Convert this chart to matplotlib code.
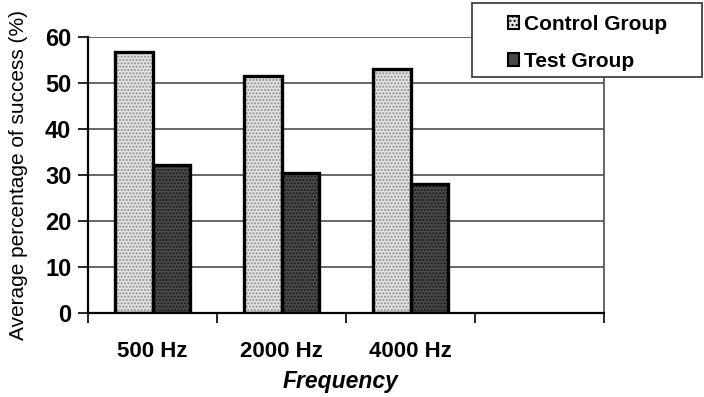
import matplotlib
matplotlib.use("Agg")
import matplotlib.pyplot as plt
import numpy as np
from matplotlib.patches import Patch, Rectangle

categories = ["500 Hz", "2000 Hz", "4000 Hz", ""]
control = [56.6, 51.5, 52.9]
test = [32.1, 30.4, 28.0]
series_names = ["Control Group", "Test Group"]
yticks = [0, 10, 20, 30, 40, 50, 60]

plt.rcParams['font.family'] = ['Liberation Sans', 'DejaVu Sans']

fig = plt.figure(figsize=(7.04, 3.97), dpi=100)
ax = fig.add_axes([0.125, 0.2116, 0.733, 0.696])

x = np.arange(len(control)) + 0.5
w = 0.29
ctrl_face, ctrl_dot = '#e4e4e4', '#8a8a8a'
test_face, test_dot = '#4a4a4a', '#1a1a1a'

# fills with dotted texture
ax.bar(x - w / 2, control, w, color=ctrl_face, edgecolor=ctrl_dot, hatch='.....', lw=0, zorder=2)
ax.bar(x + w / 2, test, w, color=test_face, edgecolor=test_dot, hatch='.....', lw=0, zorder=2)
# outlines
ax.bar(x - w / 2, control, w, fill=False, edgecolor='black', lw=2.4, zorder=3)
ax.bar(x + w / 2, test, w, fill=False, edgecolor='black', lw=2.4, zorder=3)

ax.set_xlim(0, 4)
ax.set_ylim(0, 60)
ax.set_yticks(yticks)
ax.set_yticklabels([str(t) for t in yticks], fontsize=17, fontweight='bold')
ax.yaxis.grid(True, color='#5a5a5a', lw=1.3, zorder=0)
ax.set_axisbelow(True)

ax.set_xticks(np.arange(len(categories)) + 0.5)
ax.set_xticklabels(categories, fontsize=16, fontweight='bold')
ax.tick_params(axis='x', which='major', length=0, pad=20)
ax.set_xticks(np.arange(0, 5), minor=True)
ax.tick_params(axis='x', which='minor', length=7, width=1.2, direction='out', color='black')
ax.tick_params(axis='y', length=7, width=1.2, direction='out', pad=5)

for s in ['left', 'bottom']:
    ax.spines[s].set_color('black')
    ax.spines[s].set_linewidth(1.6)
ax.spines['right'].set_color('#5a5a5a')
ax.spines['right'].set_linewidth(1.3)
ax.spines['top'].set_visible(False)

ax.set_ylabel("Average percentage of success (%)", fontsize=15, labelpad=12)
ax.set_xlabel("Frequency", fontsize=16.5, fontweight='bold', fontstyle='italic')
ax.xaxis.set_label_coords(0.49, -0.205)

# legend frame
box = Rectangle((0.670, 0.806), 0.327, 0.186, transform=fig.transFigure,
                facecolor='white', edgecolor='#404040', lw=1.3, zorder=9)
fig.add_artist(box)

handles = [Patch(facecolor=ctrl_face, edgecolor='black', lw=1.5, hatch='....'),
           Patch(facecolor=test_face, edgecolor='black', lw=1.5)]
leg = fig.legend(handles, series_names, loc='center',
                 bbox_to_anchor=(0.670 + 0.327 / 2 + 0.001, 0.806 + 0.186 / 2 - 0.007),
                 prop={'size': 15, 'weight': 'bold'}, frameon=False,
                 handlelength=0.55, handleheight=0.55, handletextpad=0.25,
                 borderpad=0.0, labelspacing=0.85, borderaxespad=0)
leg.set_zorder(10)

fig.savefig("out.png", dpi=100)
